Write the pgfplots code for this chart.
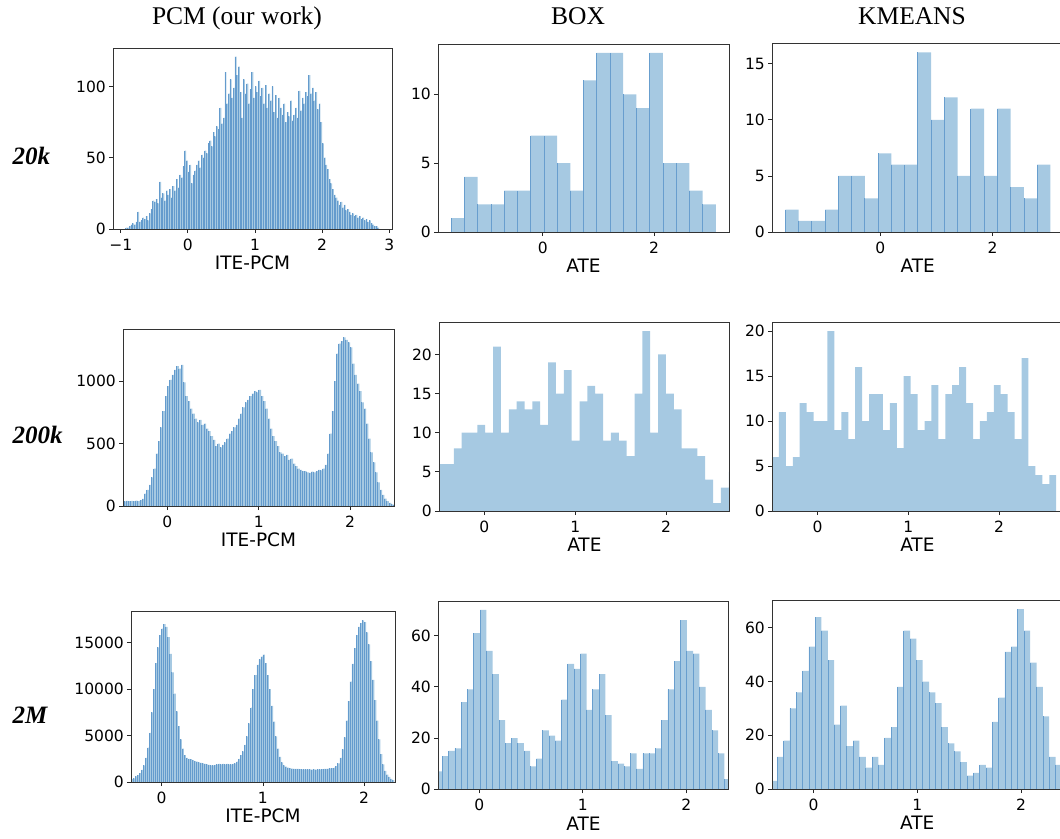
\documentclass[border=0pt]{standalone}
\usepackage{fontspec}
\setmainfont{DejaVu Sans}
\newfontfamily\timesfont{Liberation Serif}
\usepackage{pgfplots}
\usepackage{pgfplotstable}
\pgfplotsset{compat=1.18}
\definecolor{histfill}{RGB}{166,201,226}
\definecolor{histedge}{RGB}{104,158,206}
\definecolor{stripe}{RGB}{100,155,205}

% ---------------- data (counts per bin) ----------------
\pgfplotstableread[row sep=\\]{c\\
1\\1\\2\\3\\4\\3\\5\\12\\5\\6\\
8\\7\\9\\6\\11\\14\\20\\19\\21\\18\\
33\\22\\25\\20\\27\\24\\28\\22\\30\\27\\
35\\29\\38\\36\\44\\55\\48\\40\\45\\32\\
38\\41\\45\\48\\43\\52\\50\\55\\53\\60\\
62\\58\\68\\65\\72\\70\\85\\74\\78\\110\\
88\\95\\105\\92\\99\\121\\108\\114\\96\\78\\
105\\95\\102\\88\\98\\110\\92\\100\\96\\104\\
93\\99\\88\\101\\85\\95\\90\\100\\82\\94\\
78\\92\\85\\80\\88\\75\\82\\79\\90\\76\\
80\\85\\78\\97\\83\\92\\88\\96\\93\\108\\
95\\99\\90\\96\\84\\88\\75\\60\\50\\45\\
42\\35\\32\\28\\24\\22\\20\\17\\19\\15\\
17\\13\\14\\12\\10\\11\\9\\10\\8\\9\\
7\\8\\6\\7\\5\\6\\4\\3\\2\\2\\1\\0\\
}\pcmA

\pgfplotstableread[row sep=\\]{c\\
40\\38\\42\\40\\41\\39\\43\\40\\48\\58\\
100\\130\\170\\230\\300\\420\\520\\630\\760\\880\\
960\\1010\\1050\\1090\\1120\\1100\\1130\\990\\880\\840\\
780\\740\\700\\670\\690\\650\\660\\620\\600\\560\\
530\\480\\500\\470\\490\\510\\540\\580\\600\\630\\
650\\700\\740\\790\\830\\850\\880\\900\\920\\910\\
930\\880\\840\\780\\700\\620\\560\\520\\480\\430\\
420\\400\\410\\370\\380\\340\\320\\300\\290\\280\\
280\\270\\265\\275\\270\\280\\290\\285\\300\\330\\
420\\580\\760\\1000\\1220\\1300\\1320\\1350\\1330\\1310\\
1270\\1140\\1050\\980\\920\\830\\780\\660\\540\\430\\
350\\270\\190\\130\\90\\60\\40\\25\\14\\6\\0\\
}\pcmB

\pgfplotstableread[row sep=\\]{c\\
300\\400\\600\\750\\950\\1300\\1800\\2600\\3700\\5300\\
7500\\10000\\12800\\14500\\15800\\16500\\17000\\16700\\15600\\13800\\
11800\\9500\\7600\\6000\\4600\\3600\\2900\\2600\\2500\\2450\\
2350\\2250\\2200\\2100\\2050\\2000\\1950\\1900\\1850\\1800\\
1800\\1850\\1900\\1950\\1900\\1950\\1900\\1950\\1900\\1900\\
1950\\2000\\2200\\2500\\2900\\3300\\4000\\4900\\6300\\8000\\
10000\\11500\\12600\\13200\\13500\\13700\\12800\\11500\\10000\\8200\\
6500\\4900\\3600\\2700\\2100\\1800\\1650\\1550\\1500\\1450\\
1420\\1400\\1400\\1380\\1370\\1360\\1350\\1360\\1350\\1340\\
1350\\1340\\1350\\1360\\1380\\1400\\1420\\1450\\1480\\1500\\
1550\\1700\\2000\\2600\\3500\\4800\\6600\\8700\\10800\\12700\\
14400\\15800\\16700\\17100\\17400\\17200\\16100\\14800\\13000\\11000\\
8800\\6600\\4600\\3000\\1900\\1200\\800\\550\\350\\200\\0\\
}\pcmC

\pgfplotstableread[row sep=\\]{c\\
1\\4\\2\\2\\3\\3\\7\\7\\5\\3\\11\\13\\13\\10\\9\\13\\5\\5\\3\\2\\0\\
}\boxA
\pgfplotstableread[row sep=\\]{c\\
2\\1\\1\\2\\5\\5\\3\\7\\6\\6\\16\\10\\12\\5\\11\\5\\11\\4\\3\\6\\0\\
}\kmA
\pgfplotstableread[row sep=\\]{c\\
6\\6\\8\\10\\10\\11\\10\\21\\10\\13\\14\\13\\14\\11\\19\\15\\18\\9\\14\\16\\
15\\9\\10\\9\\7\\15\\23\\10\\20\\15\\13\\8\\8\\7\\4\\1\\3\\5\\0\\
}\boxB
\pgfplotstableread[row sep=\\]{c\\
6\\11\\5\\6\\12\\11\\10\\10\\20\\9\\11\\8\\16\\10\\13\\13\\9\\12\\7\\15\\
13\\9\\10\\14\\8\\13\\14\\16\\12\\8\\10\\11\\14\\13\\11\\8\\17\\5\\4\\3\\4\\0\\
}\kmB
\pgfplotstableread[row sep=\\]{c\\
7\\13\\15\\16\\34\\39\\61\\70\\54\\45\\27\\18\\20\\18\\15\\9\\12\\23\\21\\19\\
35\\49\\47\\53\\31\\39\\45\\29\\11\\10\\9\\14\\8\\14\\14\\16\\27\\39\\50\\66\\
54\\53\\40\\31\\23\\14\\4\\0\\
}\boxC
\pgfplotstableread[row sep=\\]{c\\
3\\12\\18\\30\\36\\44\\53\\64\\59\\48\\24\\31\\16\\18\\12\\8\\12\\9\\19\\23\\
38\\59\\56\\48\\40\\36\\32\\23\\17\\14\\10\\5\\6\\9\\8\\25\\34\\51\\53\\67\\
59\\47\\38\\27\\12\\9\\0\\
}\kmC

\pgfplotsset{
  hp/.style={
    scale only axis, anchor=north west, axis on top,
    ymin=0, clip=true, enlargelimits=false,
    scaled ticks=false,
    axis line style={draw=black!80, line width=0.8pt},
    every tick/.style={black!85, line width=0.8pt},
    major tick length=4pt, tick align=outside,
    xtick pos=left, ytick pos=left,
    minor tick num=0,
    tick label style={font=\fontsize{15.5}{16}\selectfont, inner sep=0pt},
    xticklabel style={anchor=north, yshift=-5.5pt},
    yticklabel style={anchor=east, xshift=-3pt},
    xlabel style={at={(axis description cs:0.5,0)}, anchor=north, inner sep=0pt,
      yshift=-27pt, font=\fontsize{18.5}{18.5}\selectfont},
  },
}

\begin{document}
\begin{tikzpicture}
\useasboundingbox (0pt,0pt) rectangle (1060pt,-838pt);

% titles
\node[font=\timesfont\fontsize{25.5}{26}\selectfont, anchor=base] at (237pt,-24.5pt) {PCM (our work)};
\node[font=\timesfont\fontsize{25.5}{26}\selectfont, anchor=base] at (578pt,-24.5pt) {BOX};
\node[font=\timesfont\fontsize{25.5}{26}\selectfont, anchor=base] at (912pt,-24.5pt) {KMEANS};
\node[font=\timesfont\bfseries\itshape\fontsize{25}{25}\selectfont, anchor=base west] at (9pt,-164.3pt) {20k};
\node[font=\timesfont\bfseries\itshape\fontsize{25}{25}\selectfont, anchor=base west] at (9pt,-443.3pt) {200k};
\node[font=\timesfont\bfseries\itshape\fontsize{25}{25}\selectfont, anchor=base west] at (9pt,-723pt) {2M};

% ---------- row 1 ----------
\begin{axis}[hp, at={(113pt,-48pt)}, width=279pt, height=181pt,
  xmin=-1.115, xmax=3.04, ymax=127,
  xtick={-1,0,1,2,3}, xticklabels={−1,0,1,2,3},
  ytick={0,50,100}, yticklabels={0,50,100},
  xlabel={ITE-PCM}]
\addplot[ybar interval, fill=histfill, draw=none] table[x expr=-0.925+0.025*\coordindex, y=c] {\pcmA};
\addplot[ycomb, draw=stripe, line width=0.55pt, mark=none] table[x expr=-0.925+0.025*\coordindex, y=c] {\pcmA};
\end{axis}

\begin{axis}[hp, at={(438pt,-44pt)}, width=291pt, height=188pt,
  xmin=-1.885, xmax=3.345, ymax=13.65,
  xtick={0,2}, xticklabels={0,2},
  ytick={0,5,10}, yticklabels={0,5,10},
  xlabel={ATE}]
\addplot[ybar interval, fill=histfill, draw=none] table[x expr=-1.647+0.2377*\coordindex, y=c] {\boxA};
\addplot[ycomb, draw=histedge, line width=0.6pt, mark=none] table[x expr=-1.647+0.2377*\coordindex, y=c] {\boxA};
\end{axis}

\begin{axis}[hp, at={(772pt,-43.5pt)}, width=291.5pt, height=188.5pt,
  xmin=-1.927, xmax=3.262, ymax=16.8,
  xtick={0,2}, xticklabels={0,2},
  ytick={0,5,10,15}, yticklabels={0,5,10,15},
  xlabel={ATE}]
\addplot[ybar interval, fill=histfill, draw=none] table[x expr=-1.691+0.2359*\coordindex, y=c] {\kmA};
\addplot[ycomb, draw=histedge, line width=0.6pt, mark=none] table[x expr=-1.691+0.2359*\coordindex, y=c] {\kmA};
\end{axis}

% ---------- row 2 ----------
\begin{axis}[hp, at={(123pt,-329pt)}, width=271pt, height=177pt,
  xmin=-0.485, xmax=2.48, ymax=1417,
  xtick={0,1,2}, xticklabels={0,1,2},
  ytick={0,500,1000}, yticklabels={0,500,1000},
  xlabel={ITE-PCM}]
\addplot[ybar interval, fill=histfill, draw=none] table[x expr=-0.5+0.025*\coordindex, y=c] {\pcmB};
\addplot[ycomb, draw=stripe, line width=0.65pt, mark=none] table[x expr=-0.5+0.025*\coordindex, y=c] {\pcmB};
\end{axis}

\begin{axis}[hp, at={(439pt,-322pt)}, width=290.7pt, height=189pt,
  xmin=-0.5, xmax=2.7, ymax=24.15,
  xtick={0,1,2}, xticklabels={0,1,2},
  ytick={0,5,10,15,20}, yticklabels={0,5,10,15,20},
  xlabel={ATE}]
\addplot[ybar interval, fill=histfill, draw=none] table[x expr=-0.51+0.08648*\coordindex, y=c] {\boxB};
\end{axis}

\begin{axis}[hp, at={(772pt,-322pt)}, width=290.7pt, height=189pt,
  xmin=-0.5, xmax=2.7, ymax=21,
  xtick={0,1,2}, xticklabels={0,1,2},
  ytick={0,5,10,15,20}, yticklabels={0,5,10,15,20},
  xlabel={ATE}]
\addplot[ybar interval, fill=histfill, draw=none] table[x expr=-0.5+0.0763*\coordindex, y=c] {\kmB};
\end{axis}

% ---------- row 3 ----------
\begin{axis}[hp, at={(131pt,-611pt)}, width=264pt, height=171pt,
  xmin=-0.303, xmax=2.305, ymax=18400,
  xtick={0,1,2}, xticklabels={0,1,2},
  ytick={0,5000,10000,15000}, yticklabels={0,5000,10000,15000},
  xlabel={ITE-PCM}]
\addplot[ybar interval, fill=histfill, draw=none] table[x expr=-0.3+0.02*\coordindex, y=c] {\pcmC};
\addplot[ycomb, draw=stripe, line width=0.65pt, mark=none] table[x expr=-0.3+0.02*\coordindex, y=c] {\pcmC};
\end{axis}

\begin{axis}[hp, at={(438pt,-601pt)}, width=290.8pt, height=188.3pt,
  xmin=-0.4, xmax=2.41, ymax=73.5,
  xtick={0,1,2}, xticklabels={0,1,2},
  ytick={0,20,40,60}, yticklabels={0,20,40,60},
  xlabel={ATE}]
\addplot[ybar interval, fill=histfill, draw=none] table[x expr=-0.418+0.06055*\coordindex, y=c] {\boxC};
\addplot[ycomb, draw=histedge, line width=0.6pt, mark=none] table[x expr=-0.418+0.06055*\coordindex, y=c] {\boxC};
\end{axis}

\begin{axis}[hp, at={(772pt,-600pt)}, width=290.6pt, height=189pt,
  xmin=-0.4, xmax=2.4, ymax=70.35,
  xtick={0,1,2}, xticklabels={0,1,2},
  ytick={0,20,40,60}, yticklabels={0,20,40,60},
  xlabel={ATE}]
\addplot[ybar interval, fill=histfill, draw=none] table[x expr=-0.411+0.06095*\coordindex, y=c] {\kmC};
\addplot[ycomb, draw=histedge, line width=0.6pt, mark=none] table[x expr=-0.411+0.06095*\coordindex, y=c] {\kmC};
\end{axis}

\end{tikzpicture}
\end{document}
